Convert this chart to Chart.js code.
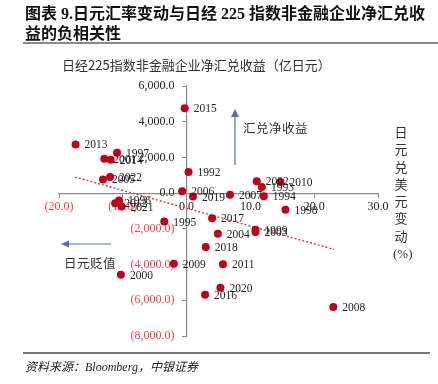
<!DOCTYPE html>
<html>
<head>
  <meta charset="utf-8">
  <title>日元汇率变动与日经225净汇兑收益</title>
  <style>
    body { margin: 0; background: #fff; }
    #wrap { position: relative; width: 438px; height: 384px; overflow: hidden; }
    #chart { position: absolute; left: 0; top: 0; }
    .txt { position: absolute; white-space: nowrap; color: #222; }
    #heading { left: 25px; top: 4px; font: bold 16px "Liberation Serif", "Noto Sans CJK SC", serif; line-height: 20px; color: #111; }
    #rule1 { position: absolute; left: 23px; top: 42px; width: 415px; height: 2px; background: #8a8a8a; }
    #rule2 { position: absolute; left: 23px; top: 352px; width: 407px; height: 1.5px; background: #777; }
    #charttitle { left: 62px; top: 55px; font: 13px "Noto Sans CJK SC", sans-serif; color: #333; }
    #vtitle { left: 393px; top: 123px; width: 16px; text-align: center; font: 13px "Noto Sans CJK SC", sans-serif; line-height: 17.3px; color: #333; }
    #gain { left: 243px; top: 118px; font: 12.5px "Noto Sans CJK SC", sans-serif; letter-spacing: 0.5px; color: #333; }
    #depr { left: 64px; top: 253px; font: 12.5px "Noto Sans CJK SC", sans-serif; letter-spacing: 0.5px; color: #333; }
    #source { left: 25px; top: 357px; font: italic 12px "Liberation Serif", "Noto Sans CJK SC", serif; color: #222; }
  </style>
</head>
<body>
<div id="wrap">
  <canvas id="chart" width="438" height="384"></canvas>
  <div id="heading" class="txt">图表 9.日元汇率变动与日经 225 指数非金融企业净汇兑收<br>益的负相关性</div>
  <div id="rule1"></div>
  <div id="charttitle" class="txt">日经225指数非金融企业净汇兑收益（亿日元）</div>
  <div id="vtitle" class="txt">日<br>元<br>兑<br>美<br>元<br>变<br>动<br><span style="font-family:'Liberation Serif',serif">(%)</span></div>
  <div id="gain" class="txt">汇兑净收益</div>
  <div id="depr" class="txt">日元贬值</div>
  <div id="rule2"></div>
  <div id="source" class="txt">资料来源：Bloomberg，中银证券</div>
</div>

<script src="https://cdn.jsdelivr.net/npm/chart.js@4.4.0/dist/chart.umd.min.js"></script>
<script>
  // year labels, yen vs usd change (%), net fx gain (100m yen)
  var years = ['1992','1993','1994','1995','1996','1997','1998','1999','2000','2001',
               '2002','2003','2004','2005','2006','2007','2008','2009','2010','2011',
               '2012','2013','2014','2015','2016','2017','2018','2019','2020','2021','2022'];
  var fxChange = [0.3, 11.8, 12.1, -3.5, -10.6, -10.9, 15.5, 10.8, -10.3, -12.9,
                  11.0, 10.8, 4.9, -13.1, -0.7, 6.8, 23.0, -2.0, 14.7, 5.7,
                  -11.2, -17.4, -11.9, -0.3, 2.9, 4.0, 3.0, 1.0, 5.3, -10.2, -12.0];
  var fxGain = [1180, 340, -170, -1590, -410, 2260, -930, -2050, -4570, 1920,
                670, -2180, -2280, 770, 100, -90, -6380, -3950, 620, -3980,
                -560, 2730, 1870, 4760, -5690, -1400, -3020, -190, -5300, -750, 900];

  // linear trend line ends
  var trendX = [-17.5, 23.1];
  var trendY = [900, -3150];

  var xTicks = [-20, -10, 0, 10, 20, 30];
  var yTicks = [-8000, -6000, -4000, -2000, 0, 2000, 4000, 6000];

  var serif = "'Liberation Serif', 'Times New Roman', serif";

  function fmt(v) {
    var s = Math.abs(v).toLocaleString('en-US', { minimumFractionDigits: 1, maximumFractionDigits: 1 });
    return v < 0 ? '(' + s + ')' : s;
  }
  function tickColor(c) {
    return c.tick && c.tick.value < 0 ? '#ff3b3b' : '#222';
  }

  var points = fxChange.map(function (x, i) { return { x: x, y: fxGain[i] }; });
  var trend = trendX.map(function (x, i) { return { x: x, y: trendY[i] }; });

  // year labels next to each dot + the two arrows
  var extras = {
    id: 'extras',
    afterDatasetsDraw: function (chart) {
      var c = chart.ctx;
      var meta = chart.getDatasetMeta(0);
      c.save();
      c.font = '11.5px ' + serif;
      c.fillStyle = '#222';
      c.textBaseline = 'middle';
      c.textAlign = 'left';
      meta.data.forEach(function (pt, i) {
        c.fillText(years[i], pt.x + 9, pt.y + 1);
      });

      c.strokeStyle = '#4a72b8';
      c.fillStyle = '#4a72b8';
      c.lineWidth = 1.2;
      // up arrow
      c.beginPath(); c.moveTo(235, 165); c.lineTo(235, 115); c.stroke();
      c.beginPath(); c.moveTo(235, 109); c.lineTo(231, 117); c.lineTo(239, 117); c.closePath(); c.fill();
      // left arrow
      c.beginPath(); c.moveTo(111, 244); c.lineTo(68, 244); c.stroke();
      c.beginPath(); c.moveTo(61, 244); c.lineTo(69, 240.5); c.lineTo(69, 247.5); c.closePath(); c.fill();
      c.restore();
    }
  };

  new Chart(document.getElementById('chart'), {
    type: 'scatter',
    data: {
      datasets: [{
        label: 'net fx gain',
        data: points,
        backgroundColor: '#c0001c',
        borderWidth: 0,
        pointRadius: 4,
        order: 1
      }, {
        type: 'line',
        label: 'trend',
        data: trend,
        borderColor: '#d43a48',
        borderWidth: 1.4,
        borderDash: [2, 2],
        pointRadius: 0,
        fill: false,
        order: 2
      }]
    },
    options: {
      responsive: false,
      animation: false,
      layout: { padding: { left: 59, right: 60, top: 86, bottom: 48 } },
      plugins: { legend: { display: false }, tooltip: { enabled: false } },
      scales: {
        x: {
          type: 'linear',
          min: -20, max: 30,
          position: { y: 0 },
          afterBuildTicks: function (s) { s.ticks = xTicks.map(function (v) { return { value: v }; }); },
          grid: { drawOnChartArea: false, tickLength: 4, color: '#8c8c8c' },
          border: { color: '#8c8c8c', width: 1.2 },
          ticks: {
            callback: fmt,
            color: tickColor,
            padding: 3,
            maxRotation: 0,
            font: { family: serif, size: 12 }
          }
        },
        y: {
          type: 'linear',
          min: -8000, max: 6000,
          position: { x: 0 },
          afterBuildTicks: function (s) { s.ticks = yTicks.map(function (v) { return { value: v }; }); },
          grid: { drawOnChartArea: false, tickLength: 4, color: '#8c8c8c' },
          border: { color: '#8c8c8c', width: 1.2 },
          ticks: {
            // positioned axis puts the labels right on the line, so pad with en spaces
            callback: function (v) { return fmt(v) + '\u2002\u2002'; },
            color: tickColor,
            font: { family: serif, size: 12 }
          }
        }
      }
    },
    plugins: [extras]
  });
</script>
</body>
</html>
